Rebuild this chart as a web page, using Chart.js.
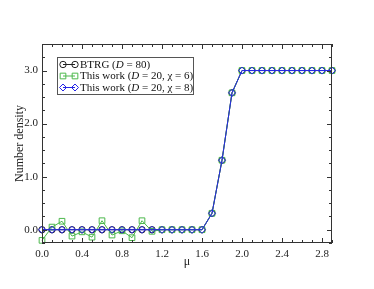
<!DOCTYPE html>
<html lang="en">
  <head>
    <title>Number density vs mu</title>
    <meta charset="utf-8">
    <script type="text/javascript" src="https://cdn.jsdelivr.net/npm/chart.js@4/dist/chart.umd.min.js"></script>
    <style>
      body { margin: 0; background: #fff; }
    </style>
  </head>
  <body>
    <canvas id="chart_nd" width="374" height="289" style="width: 374px; height: 289px;"></canvas>

    <script language="javascript" type="text/javascript">

      // chemical potential values on the x axis
      const mu = [0.0, 0.1, 0.2, 0.3, 0.4, 0.5, 0.6, 0.7, 0.8, 0.9,
                  1.0, 1.1, 1.2, 1.3, 1.4, 1.5, 1.6, 1.7, 1.8, 1.9,
                  2.0, 2.1, 2.2, 2.3, 2.4, 2.5, 2.6, 2.7, 2.8, 2.9];

      // BTRG (D = 80)
      const btrg = [0, 0, 0, 0, 0, 0, 0, 0, 0, 0,
                    0, 0, 0, 0, 0, 0, 0, 0.31, 1.31, 2.58,
                    3, 3, 3, 3, 3, 3, 3, 3, 3, 3];

      // This work (D = 20, chi = 6)
      const chi6 = [-0.2, 0.05, 0.16, -0.12, -0.04, -0.14, 0.17, -0.1, -0.02, -0.15,
                    0.17, -0.03, 0, 0, 0, 0, 0, 0.31, 1.31, 2.58,
                    3, 3, 3, 3, 3, 3, 3, 3, 3, 3];

      // This work (D = 20, chi = 8)
      const chi8 = [0, 0, 0, 0, 0, 0, 0, 0, 0, 0,
                    0, 0, 0, 0, 0, 0, 0, 0.31, 1.31, 2.58,
                    3, 3, 3, 3, 3, 3, 3, 3, 3, 3];

      // labelled (major) ticks
      const xTicks = [0.0, 0.4, 0.8, 1.2, 1.6, 2.0, 2.4, 2.8];
      const yTicks = [0.0, 1.0, 2.0, 3.0];

      // legend text, pieces flagged true are italic
      const legendText = [
        [["BTRG (", false], ["D", true], [" = 80)", false]],
        [["This work (", false], ["D", true], [" = 20, \u03C7 = 6)", false]],
        [["This work (", false], ["D", true], [" = 20, \u03C7 = 8)", false]]
      ];

      const serif = "'Liberation Serif', 'Times New Roman', serif";

      function pts(ys) {
        return mu.map((m, i) => ({x: m, y: ys[i]}));
      }

      // frame round the plot with inward ticks on all four sides
      const frameTicks = {
        id: 'frameTicks',
        afterDatasetsDraw(chart) {
          const {ctx, chartArea: a, scales: {x, y}} = chart;
          ctx.save();
          ctx.strokeStyle = '#333';
          ctx.lineWidth = 1;
          ctx.strokeRect(a.left + 0.5, a.top + 0.5, a.right - a.left - 1, a.bottom - a.top - 1);
          ctx.beginPath();
          for (let i = 0; i <= 29; i++) {
            const px = Math.round(x.getPixelForValue(i / 10)) + 0.5;
            const len = (i % 4 === 0) ? 5 : 3;
            ctx.moveTo(px, a.bottom); ctx.lineTo(px, a.bottom - len);
            ctx.moveTo(px, a.top); ctx.lineTo(px, a.top + len);
          }
          for (let i = -1; i <= 14; i++) {
            const py = Math.round(y.getPixelForValue(i / 4)) + 0.5;
            const len = (i % 4 === 0) ? 5 : 3;
            ctx.moveTo(a.left, py); ctx.lineTo(a.left + len, py);
            ctx.moveTo(a.right, py); ctx.lineTo(a.right - len, py);
          }
          ctx.stroke();
          ctx.restore();
        }
      };

      // legend box in the upper left, with a marker at both ends of the line
      const boxLegend = {
        id: 'boxLegend',
        afterDraw(chart) {
          const ctx = chart.ctx;
          const bx = 57, by = 57, bw = 136, bh = 37;
          ctx.save();
          ctx.fillStyle = '#fff';
          ctx.fillRect(bx, by, bw, bh);
          ctx.strokeStyle = '#555';
          ctx.lineWidth = 1;
          ctx.strokeRect(bx + 0.5, by + 0.5, bw, bh);
          chart.data.datasets.forEach((ds, k) => {
            const yy = by + 7.5 + k * 11.5;
            ctx.strokeStyle = ds.borderColor;
            ctx.lineWidth = 1;
            ctx.beginPath();
            ctx.moveTo(63, yy); ctx.lineTo(75, yy);
            ctx.stroke();
            ctx.fillStyle = 'rgba(0,0,0,0)';
            [63, 75].forEach(px => {
              Chart.helpers.drawPoint(ctx, {
                pointStyle: ds.pointStyle, radius: ds.pointRadius,
                rotation: 0, borderWidth: 1
              }, px, yy);
            });
            let tx = 80;
            ctx.fillStyle = '#111';
            ctx.textBaseline = 'middle';
            legendText[k].forEach(([s, it]) => {
              ctx.font = (it ? 'italic ' : '') + '11px ' + serif;
              ctx.fillText(s, tx, yy + 0.5);
              tx += ctx.measureText(s).width;
            });
          });
          ctx.restore();
        }
      };

      const chart = new Chart("chart_nd", {
        type: "scatter",
        data: {
          datasets: [
            {
              label: "BTRG",
              order: 2,
              data: pts(btrg),
              showLine: true,
              borderColor: "#222",
              backgroundColor: "rgba(0,0,0,0)",
              borderWidth: 1,
              pointStyle: 'circle',
              pointRadius: 3.2,
              pointBorderWidth: 1,
              clip: false
            },
            {
              label: "chi6",
              order: 1,
              data: pts(chi6),
              showLine: true,
              borderColor: "#4cb84c",
              backgroundColor: "rgba(0,0,0,0)",
              borderWidth: 1,
              pointStyle: 'rect',
              pointRadius: 4,
              pointBorderWidth: 1,
              clip: false
            },
            {
              label: "chi8",
              order: 0,
              data: pts(chi8),
              showLine: true,
              borderColor: "#2626e6",
              backgroundColor: "rgba(0,0,0,0)",
              borderWidth: 1,
              pointStyle: 'rectRot',
              pointRadius: 3.5,
              pointBorderWidth: 1,
              clip: false
            }
          ]
        },
        options: {
          responsive: false,
          animation: false,
          layout: {padding: {top: 44, right: 42, left: 0, bottom: 0}},
          plugins: {legend: {display: false}, tooltip: {enabled: false}},
          scales: {
            x: {
              type: 'linear',
              min: 0, max: 2.9,
              grid: {display: false, drawTicks: false},
              border: {display: false},
              ticks: {
                padding: 5, color: '#222', maxRotation: 0, autoSkip: false,
                font: {family: serif, size: 11},
                callback: v => v.toFixed(1)
              },
              afterBuildTicks: s => { s.ticks = xTicks.map(v => ({value: v})); },
              afterFit: s => { s.height = 46; },
              title: {
                display: true, text: '\u03BC', color: '#222',
                font: {family: serif, size: 12, lineHeight: 1},
                padding: {top: 0, bottom: 21}
              }
            },
            y: {
              min: -0.25, max: 3.5,
              grid: {display: false, drawTicks: false},
              border: {display: false},
              ticks: {
                padding: 4, color: '#222', autoSkip: false,
                font: {family: serif, size: 11},
                callback: v => v.toFixed(1)
              },
              afterBuildTicks: s => { s.ticks = yTicks.map(v => ({value: v})); },
              afterFit: s => { s.width = 42; },
              title: {
                display: true, text: 'Number density', color: '#222',
                font: {family: serif, size: 12, lineHeight: 1},
                padding: {top: 14, bottom: 0}
              }
            }
          }
        },
        plugins: [frameTicks, boxLegend]
      });

    </script>
  </body>
</html>
